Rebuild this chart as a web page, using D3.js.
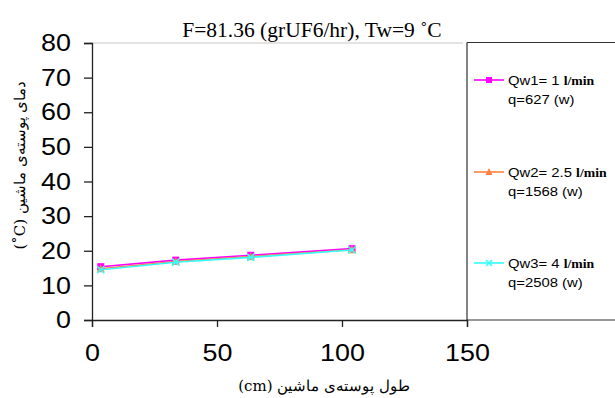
<!DOCTYPE html>
<html>
<head>
<meta charset="utf-8">
<script src="https://cdn.jsdelivr.net/npm/d3@7"></script>
<style>
  html, body { margin: 0; padding: 0; background: #fff; }
  svg { display: block; }
</style>
</head>
<body>
<svg id="chart" width="615" height="398"></svg>
<script>
// Shell temperature along the machine length for three cooling-water flow rates
const positions = [3.5, 33.5, 63.5, 104];
const tempQw1 = [15.4, 17.3, 18.7, 20.6];
const tempQw2 = [14.8, 16.9, 18.3, 20.3];
const tempQw3 = [14.5, 16.7, 18.1, 20.2];
const seriesNames = ["Qw1= 1 ", "Qw2= 2.5 ", "Qw3= 4 "];
const seriesUnits = ["l/min", "l/min", "l/min"];
const seriesHeat = ["q=627 (w)", "q=1568 (w)", "q=2508 (w)"];
const xTicks = [0, 50, 100, 150];
const yTicks = [0, 10, 20, 30, 40, 50, 60, 70, 80];

const colors = ["#ff00ff", "#ff8040", "#33ffff"];
const markers = ["square", "triangle", "cross"];
const seriesValues = [tempQw1, tempQw2, tempQw3];

const svg = d3.select("#chart");
const plot = { left: 92, right: 467, top: 43, bottom: 320 };
const sansFont = "Liberation Sans, Arial, sans-serif";
const stretch = 1.12; // wide sans lettering

const x = d3.scaleLinear().domain([0, 150]).range([plot.left, plot.right]);
const y = d3.scaleLinear().domain([0, 80]).range([plot.bottom, plot.top]);

// light top border of the plot area
svg.append("line")
  .attr("x1", plot.left).attr("x2", plot.right - 4)
  .attr("y1", plot.top).attr("y2", plot.top)
  .attr("stroke", "#c8c8c8").attr("stroke-width", 1);

// legend frame
svg.append("path")
  .attr("d", `M${plot.right},${plot.top - 0.5} H615 M${plot.right},${plot.top - 0.5} V${plot.bottom} H615`)
  .attr("fill", "none").attr("stroke", "#333").attr("stroke-width", 1.2);

// axes
const yAxis = d3.axisLeft(y).tickValues(yTicks).tickSize(8).tickPadding(13);
const gy = svg.append("g").attr("transform", `translate(${plot.left},0)`).call(yAxis);
gy.select(".domain").attr("stroke", "#222").attr("stroke-width", 1.3);
gy.selectAll(".tick line").attr("stroke", "#222").attr("stroke-width", 1.3);
gy.selectAll(".tick text")
  .attr("font-family", sansFont).attr("font-size", 24).attr("fill", "#000")
  .attr("x", -(8 + 13) / stretch)
  .attr("transform", `scale(${stretch},1)`);

const xAxis = d3.axisBottom(x).tickValues(xTicks).tickSize(7).tickPadding(17);
const gx = svg.append("g").attr("transform", `translate(0,${plot.bottom})`).call(xAxis);
gx.select(".domain").attr("stroke", "#222").attr("stroke-width", 1.3);
gx.selectAll(".tick line").attr("stroke", "#222").attr("stroke-width", 1.3);
gx.selectAll(".tick text")
  .attr("font-family", sansFont).attr("font-size", 24).attr("fill", "#000")
  .attr("transform", `scale(${stretch},1)`);

// series lines and markers
const line = d3.line().x((d, i) => x(positions[i])).y(d => y(d));

function drawMarker(g, type, color, cx, cy, s) {
  if (type === "square") {
    g.append("rect").attr("x", cx - s).attr("y", cy - s)
      .attr("width", 2 * s).attr("height", 2 * s).attr("fill", color);
  } else if (type === "triangle") {
    g.append("path")
      .attr("d", `M${cx},${cy - s - 1} L${cx + s + 0.5},${cy + s} L${cx - s - 0.5},${cy + s} Z`)
      .attr("fill", color);
  } else {
    g.append("path")
      .attr("d", `M${cx - s},${cy - s} L${cx + s},${cy + s} M${cx - s},${cy + s} L${cx + s},${cy - s}`)
      .attr("stroke", color).attr("stroke-width", 1.6).attr("fill", "none");
  }
}

seriesValues.forEach((vals, k) => {
  const g = svg.append("g");
  g.append("path").datum(vals).attr("d", line)
    .attr("fill", "none").attr("stroke", colors[k]).attr("stroke-width", 1.6);
  vals.forEach((v, i) => drawMarker(g, markers[k], colors[k], x(positions[i]), y(v), 3.5));
});

// legend entries
const legendY = [80, 172, 263];
const legendTextX = 508;
seriesNames.forEach((name, k) => {
  const g = svg.append("g");
  const ly = legendY[k];
  g.append("line").attr("x1", 474).attr("x2", 504).attr("y1", ly).attr("y2", ly)
    .attr("stroke", colors[k]).attr("stroke-width", 1.6);
  drawMarker(g, markers[k], colors[k], 489, ly, 3);
  const t = g.append("text").attr("x", legendTextX / 1.1).attr("y", ly + 5)
    .attr("transform", "scale(1.1,1)")
    .attr("font-family", sansFont).attr("font-size", 13.5).attr("fill", "#000");
  t.append("tspan").text(name);
  t.append("tspan").attr("font-family", "Liberation Serif, Times New Roman, serif")
    .attr("font-weight", "bold").attr("font-size", 12.5).text(seriesUnits[k]);
  g.append("text").attr("x", legendTextX / 1.1).attr("y", ly + 24)
    .attr("transform", "scale(1.1,1)")
    .attr("font-family", sansFont).attr("font-size", 13.5).attr("fill", "#000")
    .text(seriesHeat[k]);
});

// title
svg.append("text").attr("x", 312).attr("y", 37).attr("text-anchor", "middle")
  .attr("font-family", "Liberation Serif, Times New Roman, serif")
  .attr("font-size", 21.5).attr("fill", "#000")
  .text("F=81.36 (grUF6/hr), Tw=9 ˚C");

// axis titles
svg.append("text").attr("x", 324).attr("y", 391).attr("text-anchor", "middle")
  .attr("font-family", "DejaVu Serif, Liberation Serif, serif")
  .attr("font-size", 15).attr("fill", "#000")
  .attr("direction", "rtl")
  .text("طول پوسته‌ی ماشین (cm)");

svg.append("text")
  .attr("transform", "translate(25,165) rotate(-90)")
  .attr("text-anchor", "middle")
  .attr("font-family", "DejaVu Serif, Liberation Serif, serif")
  .attr("font-size", 15).attr("fill", "#000")
  .attr("direction", "rtl")
  .text("دمای پوسته‌ی ماشین (\u200E˚C)");
</script>
</body>
</html>
